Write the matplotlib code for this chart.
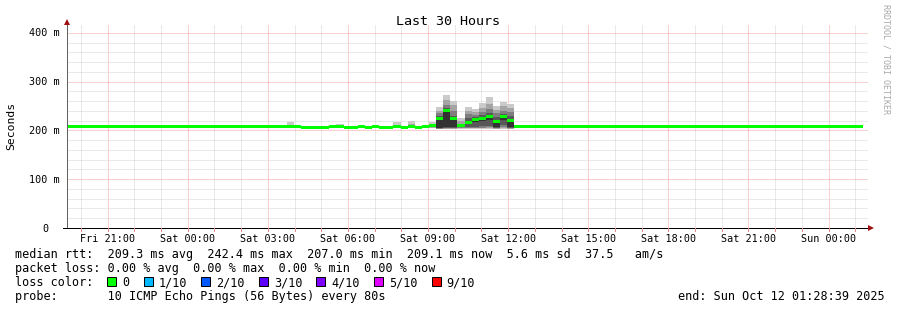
import matplotlib
matplotlib.use("Agg")
import matplotlib.pyplot as plt
import matplotlib.transforms as mtransforms
from matplotlib.patches import Rectangle

W, H, DPI = 897, 310, 100
FONT = "DejaVu Sans Mono"

# ---------------- data ----------------
# hours are measured from the graph start (Fri 19:28:39); RRA bins are 16 minutes
bin_hours = 16 / 60
first_bin_start_h = -0.0417
span_hours = 30.0

median_ms = [
    207.2, 207.2, 207.2, 207.2, 207.2, 207.2, 207.2, 207.2, 207.2, 207.2, 207.2,
    207.4, 207.4,
    207.2, 207.2, 207.2, 207.2, 207.2, 207.2, 207.2, 207.2, 207.2, 207.2, 207.2,
    208.0,
    207.2, 207.2, 207.2, 207.2, 207.2, 207.2,
    207.2, 208.5,
    206.5, 206.5, 206.5, 206.5,
    207.3, 207.3, 206.5, 206.5, 207.3, 206.5, 207.3,
    206.3, 206.3, 207.5, 205.8, 209.0, 206.2, 207.5,
    210.0, 224.0, 242.0, 225.0, 210.0, 217.0, 222.0, 225.0, 228.0, 219.0, 228.0, 220.0,
    207.3, 207.3, 207.3, 207.3, 207.3, 207.3, 207.3, 207.3, 207.3, 207.3, 207.3, 207.3,
    207.3, 207.3, 207.3, 207.3, 207.3, 207.3, 207.3, 207.3, 207.3, 207.3, 207.3, 207.3,
    207.3, 207.3, 207.3, 207.3, 207.3, 207.3, 207.3, 207.3, 207.3, 207.3, 207.3, 207.3,
    207.3, 207.3, 207.3, 207.3, 207.3, 207.3, 207.3, 207.3, 207.3, 207.3, 207.3, 207.3,
    209.0,
]

# 10 sorted ping times (ms) for the bins where smoke is visible
smoke_pings = {
    11: [206.0, 206.5, 207.0, 207.0, 207.2, 207.4, 207.6, 208.0, 208.5, 210.0],
    12: [206.0, 206.5, 207.0, 207.0, 207.2, 207.4, 207.6, 208.0, 208.5, 209.8],
    31: [205.0, 206.0, 206.5, 207.0, 207.0, 207.5, 208.0, 209.0, 212.0, 217.0],
    37: [205.5, 206.0, 206.5, 207.0, 207.0, 207.5, 208.0, 208.5, 209.5, 211.0],
    38: [205.5, 206.0, 206.5, 207.0, 207.0, 207.5, 208.0, 209.0, 210.5, 213.0],
    41: [205.5, 206.0, 206.5, 207.0, 207.0, 207.5, 208.0, 208.5, 209.5, 211.0],
    43: [205.5, 206.0, 206.5, 207.0, 207.0, 207.5, 208.0, 208.5, 209.5, 211.0],
    46: [205.0, 206.0, 206.5, 207.0, 207.3, 207.7, 208.0, 209.0, 212.0, 218.0],
    48: [206.0, 207.0, 207.5, 208.0, 208.7, 209.3, 210.0, 211.0, 214.0, 219.5],
    50: [205.5, 206.0, 206.5, 207.0, 207.3, 207.7, 208.0, 208.5, 210.0, 212.0],
    51: [205.0, 206.0, 207.0, 208.0, 209.5, 210.5, 211.0, 212.0, 214.0, 216.5],
    52: [203.0, 203.5, 204.0, 205.0, 206.0, 227.0, 230.0, 235.0, 240.0, 248.0],
    53: [203.0, 204.0, 205.0, 206.0, 208.0, 244.0, 246.0, 252.0, 262.0, 273.0],
    54: [203.0, 204.0, 205.0, 206.0, 208.0, 227.0, 230.0, 240.0, 252.0, 261.0],
    55: [204.0, 205.0, 206.0, 207.0, 208.0, 211.0, 212.0, 214.0, 219.0, 225.0],
    56: [204.0, 205.0, 206.0, 208.0, 213.0, 219.0, 226.0, 233.0, 241.0, 249.0],
    57: [204.0, 205.0, 206.0, 208.0, 218.0, 224.0, 228.0, 232.0, 238.0, 244.0],
    58: [204.0, 205.0, 206.0, 209.0, 220.0, 227.0, 231.0, 238.0, 247.0, 256.0],
    59: [204.0, 205.0, 207.0, 210.0, 222.0, 230.0, 235.0, 244.0, 255.0, 268.0],
    60: [203.0, 204.0, 205.0, 206.0, 208.0, 220.0, 228.0, 236.0, 243.0, 251.0],
    61: [204.0, 205.0, 207.0, 211.0, 222.0, 230.0, 234.0, 241.0, 250.0, 259.0],
    62: [203.0, 204.0, 205.0, 206.0, 207.0, 222.0, 229.0, 238.0, 246.0, 254.0],
    63: [205.5, 206.0, 206.5, 207.0, 207.2, 207.4, 207.6, 208.0, 209.0, 210.5],
    64: [205.5, 206.0, 206.5, 207.0, 207.2, 207.4, 207.6, 208.0, 209.0, 210.5],
    65: [205.5, 206.0, 206.5, 207.0, 207.2, 207.4, 207.6, 208.0, 209.0, 210.5],
    79: [205.5, 206.0, 206.5, 207.0, 207.2, 207.4, 207.6, 208.0, 209.0, 210.5],
}

x_tick_hours = [1.5225, 4.5225, 7.5225, 10.5225, 13.5225, 16.5225,
                19.5225, 22.5225, 25.5225, 28.5225]
x_tick_labels = ["Fri 21:00", "Sat 00:00", "Sat 03:00", "Sat 06:00", "Sat 09:00",
                 "Sat 12:00", "Sat 15:00", "Sat 18:00", "Sat 21:00", "Sun 00:00"]
first_full_hour = 0.5225
y_tick_values = [0, 100, 200, 300, 400]
y_tick_labels = ["0", "100 m", "200 m", "300 m", "400 m"]
y_top = 416.4

legend_rows = [
    "median rtt:  209.3 ms avg  242.4 ms max  207.0 ms min  209.1 ms now  5.6 ms sd  37.5   am/s",
    "packet loss: 0.00 % avg  0.00 % max  0.00 % min  0.00 % now",
    "loss color:",
    "probe:       10 ICMP Echo Pings (56 Bytes) every 80s",
]
loss_labels = ["0", "1/10", "2/10", "3/10", "4/10", "5/10", "9/10"]
loss_colors = ["#00ff00", "#00b8ff", "#0059ff", "#5e00ff", "#7e00ff", "#dd00ff", "#ff0000"]
end_text = "end: Sun Oct 12 01:28:39 2025"
smoke_grays = ["#cacaca", "#a4a4a4", "#7e7e7e", "#585858", "#323232"]

# ---------------- figure ----------------
fig = plt.figure(figsize=(W / DPI, H / DPI), dpi=DPI, facecolor="white")
ax = fig.add_axes([67 / W, 1 - 228 / H, 801 / W, 203 / H])
ax.set_xlim(0, span_hours)
ax.set_ylim(0, y_top)
ax.set_facecolor("white")
for s in ax.spines.values():
    s.set_visible(False)
ax.set_xticks([])
ax.set_yticks([])

px = 72 / DPI  # points per pixel
ms_per_px = y_top / 203
dot = (0, (1, 1))
minor_col = "#d4d4d4"
major_col = "#f3a2a2"

# grid
h = first_full_hour
while h < span_hours:
    major = any(abs(h - t) < 1e-6 for t in x_tick_hours)
    ax.axvline(h, color=major_col if major else minor_col, lw=px, ls=dot, zorder=0)
    h += 1
for v in range(20, 420, 20):
    major = v % 100 == 0
    ax.axhline(v, color=major_col if major else minor_col, lw=px, ls=dot, zorder=0)

# smoke
for j, p in smoke_pings.items():
    t0 = first_bin_start_h + j * bin_hours
    for i in range(5):
        ax.bar(t0, p[9 - i] - p[i], bottom=p[i], width=bin_hours, align="edge",
               color=smoke_grays[i], linewidth=0, zorder=2, antialiased=False)

# median: 3 px high boxes centred on the median
starts = [first_bin_start_h + j * bin_hours for j in range(len(median_ms))]
band = 3 * ms_per_px
ax.bar(starts, [band] * len(median_ms), bottom=[m - band / 2 for m in median_ms],
       width=bin_hours, align="edge", color="#00ff00", linewidth=0, zorder=3,
       antialiased=False)

# axes lines and arrows
ax.plot([0, 0], [0, 1], transform=ax.transAxes, color="#606060", lw=px, clip_on=False, zorder=4)
ax.plot([-4 / 801, 1.0], [0, 0], transform=ax.transAxes, color="black", lw=px, clip_on=False, zorder=4)
ax.plot([0], [1.0 + 3 / 203], marker="^", ms=5, color="#a01010", transform=ax.transAxes,
        clip_on=False, zorder=5, mew=0)
ax.plot([1.0 + 3 / 801], [0], marker=">", ms=5, color="#a01010", transform=ax.transAxes,
        clip_on=False, zorder=5, mew=0)

# x tick marks
btx = mtransforms.blended_transform_factory(ax.transData, ax.transAxes)
for h2 in range(0, 30):
    hh = first_full_hour + h2
    if hh < span_hours:
        ax.plot([hh, hh], [0, -2.5 / 203], transform=btx, color="#e08a8a", lw=px,
                clip_on=False, zorder=4)

# tick labels
tx = mtransforms.blended_transform_factory(ax.transData, fig.transFigure)
for t, lab in zip(x_tick_hours, x_tick_labels):
    ax.text(t, 1 - 241.5 / H, lab, transform=tx, ha="center", va="baseline",
            fontsize=7.3, family=FONT)
ty = mtransforms.offset_copy(mtransforms.blended_transform_factory(fig.transFigure, ax.transData),
                             fig=fig, y=-3.5, units="dots")
for v, lab in zip(y_tick_values, y_tick_labels):
    xr = 60 if lab != "0" else 48
    ax.text(xr / W, v, lab, transform=ty, ha="right", va="baseline", fontsize=7.3, family=FONT)


def ftext(x, y, s, **kw):
    kw.setdefault("family", FONT)
    return fig.text(x / W, 1 - y / H, s, **kw)


ftext(447.5, 25, "Last 30 Hours", ha="center", va="baseline", fontsize=9.6)
ftext(11, 126, "Seconds", ha="center", va="center", rotation=90, fontsize=8.2)
ftext(886, 4, "RRDTOOL / TOBI OETIKER", ha="center", va="top", rotation=270,
      fontsize=6.0, color="#a8a8a8")

adv = 7.1
baselines = [258, 272, 286, 300]
for row, yb in zip(legend_rows, baselines):
    ftext(15, yb, row, ha="left", va="baseline", fontsize=8.5)

xs = 15 + 13 * adv
for lab, col in zip(loss_labels, loss_colors):
    fig.patches.append(Rectangle((xs / W, 1 - 286 / H), 9 / W, 9 / H, transform=fig.transFigure,
                                 facecolor=col, edgecolor="black", lw=px))
    ftext(xs + 15, 286, lab, ha="left", va="baseline", fontsize=8.5)
    xs = xs + 15 + (len(lab) + 2) * adv

ftext(678, 300, end_text, ha="left", va="baseline", fontsize=8.5)

fig.savefig("out.png", dpi=DPI, facecolor="white")
